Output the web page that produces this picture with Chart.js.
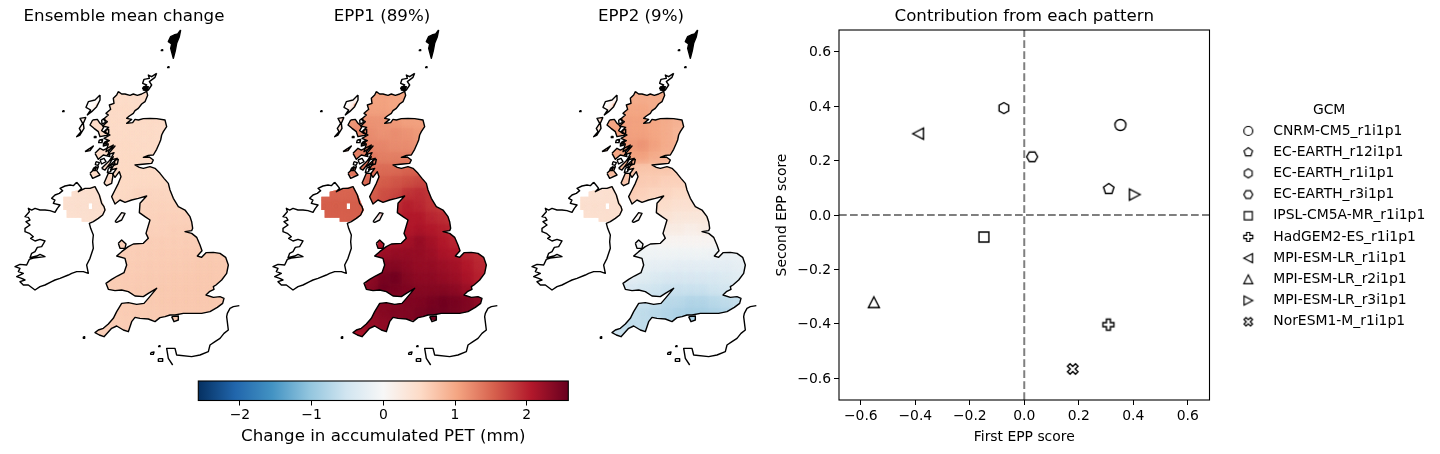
<!DOCTYPE html>
<html>
<head>
<meta charset="utf-8">
<title>EPP patterns</title>
<script src="https://cdn.jsdelivr.net/npm/chart.js@4"></script>
<style>
  html, body { margin: 0; padding: 0; background: #fff; }
  canvas { position: absolute; }
</style>
</head>
<body>
<canvas id="map1" width="248" height="370" style="left:0;top:0"></canvas>
<canvas id="map2" width="248" height="370" style="left:258px;top:0"></canvas>
<canvas id="map3" width="248" height="370" style="left:517px;top:0"></canvas>
<canvas id="colorbar" width="390" height="79" style="left:190px;top:375px"></canvas>
<canvas id="scores" width="450" height="454" style="left:772px;top:0"></canvas>
<canvas id="legend" width="217" height="260" style="left:1223px;top:90px"></canvas>
<script>
const _ = null;

// Map grid, cell centres in map units
const gridX = [198, 234, 270, 306, 342, 378, 414, 450, 486, 522, 558, 594, 630, 666];
const gridY = [234, 270, 306, 342, 378, 414, 450, 486, 522, 558, 594, 630, 666, 702, 738, 774, 810, 846, 882, 918, 954];

const meanChange = [
  [_,_,_,_,.48,.48,.47,.47,_,_,_,_,_,_],
  [_,_,_,.5,.5,.5,.48,.47,_,_,_,_,_,_],
  [_,_,.5,.5,.5,.5,.5,.5,.5,_,_,_,_,_],
  [_,_,.5,.5,.5,.5,.5,.5,.48,_,_,_,_,_],
  [_,_,.5,.5,.52,.52,.5,.5,.5,_,_,_,_,_],
  [_,_,.5,.5,.5,.52,.52,.5,_,_,_,_,_,_],
  [_,_,.5,.5,.52,.52,.52,.52,.52,_,_,_,_,_],
  [_,_,_,.5,.52,.52,.52,.52,.52,.55,_,_,_,_],
  [.42,.42,.42,.42,.52,.52,.55,.55,.55,.55,_,_,_,_],
  [.42,.42,.42,.42,.52,.55,.55,.58,.58,.58,.58,_,_,_],
  [.42,.42,.42,.42,_,_,.58,.58,.6,.6,.6,.6,_,_],
  [_,_,_,_,_,_,_,.6,.6,.62,.62,.62,_,_],
  [_,_,_,_,_,.62,.62,.62,.63,.63,.63,.63,_,_],
  [_,_,_,_,.62,.62,.63,.63,.64,.64,.65,.65,.66,.66],
  [_,_,_,_,.63,.64,.64,.65,.65,.66,.66,.67,.67,.67],
  [_,_,_,_,.64,.65,.65,.66,.66,.67,.67,.68,.68,.68],
  [_,_,_,.62,.64,.65,.66,.66,.67,.67,.68,.68,.68,_],
  [_,_,_,_,_,.64,.65,.66,.67,.68,.68,.68,.68,.68],
  [_,_,_,_,.64,.64,.65,.66,.67,.68,.68,.68,.68,_],
  [_,_,_,.62,.63,.64,.64,_,_,_,_,_,_,_],
  [_,_,.6,.62,.62,_,_,_,_,_,_,_,_,_]
];
const epp1Change = [
  [_,_,_,_,1.05,1.05,1.0,1.0,_,_,_,_,_,_],
  [_,_,_,1.05,1.05,1.05,1.0,1.0,_,_,_,_,_,_],
  [_,_,1.1,1.15,1.15,1.15,1.1,1.05,1.05,_,_,_,_,_],
  [_,_,1.2,1.25,1.2,1.15,1.2,1.15,1.1,_,_,_,_,_],
  [_,_,1.25,1.3,1.25,1.25,1.2,1.2,1.15,_,_,_,_,_],
  [_,_,1.3,1.3,1.35,1.3,1.3,1.3,_,_,_,_,_,_],
  [_,_,1.35,1.4,1.4,1.45,1.45,1.5,1.5,_,_,_,_,_],
  [_,_,_,1.4,1.5,1.55,1.6,1.65,1.7,1.7,_,_,_,_],
  [1.5,1.5,1.5,1.5,1.55,1.65,1.7,1.85,1.9,1.85,_,_,_,_],
  [1.55,1.55,1.55,1.55,1.6,1.7,1.9,2.0,1.95,1.85,1.8,_,_,_],
  [1.55,1.55,1.55,1.55,_,_,1.95,2.05,2.05,1.95,1.9,1.8,_,_],
  [_,_,_,_,_,_,_,2.05,2.1,2.05,2.0,1.9,_,_],
  [_,_,_,_,_,2.05,2.1,2.15,2.25,2.15,2.05,1.95,_,_],
  [_,_,_,_,2.1,2.2,2.25,2.25,2.25,2.2,2.1,2.05,1.95,1.9],
  [_,_,_,_,2.2,2.35,2.35,2.3,2.25,2.25,2.2,2.15,2.05,1.95],
  [_,_,_,_,2.3,2.45,2.5,2.35,2.3,2.3,2.25,2.2,2.1,2.0],
  [_,_,_,2.2,2.35,2.5,2.45,2.4,2.35,2.35,2.35,2.3,2.2,_],
  [_,_,_,_,_,2.35,2.35,2.4,2.4,2.45,2.5,2.45,2.4,2.3],
  [_,_,_,_,2.3,2.35,2.4,2.4,2.45,2.5,2.5,2.45,2.4,_],
  [_,_,_,2.2,2.25,2.3,2.35,_,_,_,_,_,_,_],
  [_,_,2.1,2.1,2.2,_,_,_,_,_,_,_,_,_]
];
const epp2Change = [
  [_,_,_,_,.95,.95,.95,.95,_,_,_,_,_,_],
  [_,_,_,.95,1.0,1.0,.95,.95,_,_,_,_,_,_],
  [_,_,1.0,1.0,1.05,1.05,1.0,.95,.9,_,_,_,_,_],
  [_,_,1.05,1.05,1.05,1.05,1.0,.95,.85,_,_,_,_,_],
  [_,_,1.0,1.05,1.1,1.15,1.05,.95,.9,_,_,_,_,_],
  [_,_,.95,1.0,1.05,1.05,.95,.9,_,_,_,_,_,_],
  [_,_,.8,.8,.75,.7,.7,.7,.65,_,_,_,_,_],
  [_,_,_,.75,.7,.65,.65,.6,.6,.55,_,_,_,_],
  [.4,.4,.4,.4,.65,.6,.55,.55,.5,.5,_,_,_,_],
  [.42,.42,.42,.42,.55,.5,.5,.45,.4,.4,.4,_,_,_],
  [.42,.42,.42,.42,_,_,.4,.35,.3,.3,.3,.3,_,_],
  [_,_,_,_,_,_,_,.2,.2,.15,.2,.2,_,_],
  [_,_,_,_,_,-.05,.0,.05,.05,.05,.05,.05,_,_],
  [_,_,_,_,-.1,-.1,-.1,-.1,-.1,-.1,-.1,-.12,-.15,-.15],
  [_,_,_,_,-.2,-.2,-.22,-.22,-.25,-.25,-.25,-.25,-.25,-.22],
  [_,_,_,_,-.25,-.3,-.35,-.4,-.4,-.4,-.4,-.4,-.35,-.3],
  [_,_,_,-.4,-.4,-.45,-.5,-.55,-.55,-.55,-.55,-.5,-.45,_],
  [_,_,_,_,_,-.55,-.6,-.7,-.7,-.75,-.75,-.7,-.65,-.6],
  [_,_,_,_,-.6,-.65,-.7,-.75,-.8,-.85,-.85,-.8,-.75,_],
  [_,_,_,-.6,-.65,-.65,-.7,_,_,_,_,_,_,_],
  [_,_,-.55,-.55,-.6,_,_,_,_,_,_,_,_,_]
];

// Coastlines, map units
const coastBritain = [[355,215],[365,222],[375,222],[390,226],[400,222],[412,226],[425,222],[440,214],[443,226],[435,245],[425,252],[415,265],[405,272],[400,280],[388,288],[380,295],[395,298],[380,310],[398,308],[405,298],[415,300],[430,296],[450,295],[470,296],[495,300],[500,320],[490,335],[485,345],[482,360],[478,370],[470,388],[460,405],[445,406],[430,412],[448,411],[460,420],[455,430],[435,432],[405,435],[418,442],[430,445],[450,440],[465,445],[480,460],[492,475],[505,490],[510,510],[520,535],[535,560],[555,570],[570,590],[575,605],[578,625],[575,632],[555,635],[575,640],[590,652],[600,675],[606,692],[592,708],[605,712],[618,698],[640,697],[660,700],[677,712],[685,735],[680,760],[665,780],[648,795],[640,800],[642,808],[628,815],[618,825],[640,832],[660,830],[672,835],[668,850],[652,862],[630,875],[605,880],[575,880],[550,880],[525,885],[510,885],[495,890],[480,893],[465,905],[445,897],[420,895],[405,892],[395,905],[385,935],[370,930],[350,918],[335,925],[312,950],[298,945],[285,938],[295,930],[310,925],[325,912],[340,895],[350,875],[365,850],[385,848],[410,853],[432,850],[445,835],[470,805],[445,820],[430,830],[405,828],[385,815],[365,810],[345,812],[325,808],[318,790],[335,778],[352,768],[372,758],[380,735],[375,715],[350,708],[365,695],[385,680],[400,672],[430,670],[445,655],[438,640],[450,600],[435,590],[418,578],[420,550],[440,528],[415,535],[395,540],[375,547],[360,540],[345,552],[335,530],[345,510],[355,490],[363,470],[358,455],[345,472],[338,462],[350,445],[332,450],[345,430],[325,440],[352,415],[330,420],[342,398],[322,405],[345,378],[318,395],[325,372],[310,372],[328,362],[312,355],[330,345],[312,335],[326,322],[308,318],[322,305],[310,298],[325,285],[318,280],[332,268],[328,255],[342,250],[340,235],[350,225],[355,215]];
const coastIreland = [[230,487],[220,497],[210,495],[195,498],[180,505],[188,512],[178,520],[165,525],[155,535],[165,540],[160,550],[180,555],[172,565],[165,577],[150,572],[135,570],[120,570],[105,565],[95,570],[85,565],[88,575],[75,590],[85,592],[90,600],[78,605],[90,615],[75,625],[75,635],[88,640],[100,650],[92,655],[105,663],[120,658],[135,663],[125,680],[112,682],[105,695],[95,700],[90,713],[110,708],[120,703],[135,710],[100,714],[88,718],[80,735],[60,733],[45,740],[60,745],[55,755],[70,760],[50,770],[65,775],[75,780],[60,785],[70,795],[85,795],[105,810],[120,800],[135,795],[155,785],[165,780],[180,775],[205,765],[215,760],[230,755],[250,755],[265,760],[262,745],[260,735],[270,715],[280,685],[278,665],[280,645],[272,625],[268,610],[280,605],[295,595],[308,585],[315,570],[312,560],[305,550],[298,525],[285,500],[270,505],[255,505],[235,515],[245,505],[237,495],[230,487]];
const coastFrance = [[718,857],[700,860],[690,865],[682,880],[680,890],[685,930],[672,940],[660,955],[645,965],[630,975],[625,995],[600,1005],[575,1010],[530,1005],[525,985],[500,985],[505,1015],[518,1035]];
const shetland = [[542,30],[533,42],[522,45],[512,50],[505,65],[515,72],[512,85],[520,115],[526,92],[530,70],[538,50],[542,30]];
const orkney = [[470,160],[455,170],[445,165],[448,175],[432,178],[428,190],[440,195],[428,205],[445,210],[455,195],[448,185],[465,172],[470,160]];
const orkneySouth = [[430,200],[445,200],[442,212],[430,210],[430,200]];
const lewis = [[300,225],[285,240],[265,245],[258,262],[272,270],[262,285],[275,275],[290,260],[300,240],[300,225]];
const uist = [[258,292],[240,295],[248,310],[238,325],[243,335],[230,350],[240,345],[252,325],[250,310],[258,292]];
const skye = [[278,300],[292,298],[300,310],[312,320],[305,332],[325,345],[300,350],[295,335],[282,325],[270,315],[278,300]];
const tiree = [[255,395],[265,388],[280,378],[270,392],[255,395]];
const mull = [[285,400],[300,385],[310,390],[340,375],[325,395],[330,410],[310,405],[295,418],[285,400]];
const islay = [[270,460],[285,445],[295,440],[290,452],[300,465],[278,475],[270,460]];
const jura = [[305,445],[325,425],[340,410],[330,430],[315,450],[305,445]];
const arran = [[312,490],[325,460],[340,460],[335,490],[320,497],[312,490]];
const anglesey = [[355,670],[365,660],[378,672],[375,685],[360,685],[355,670]];
const isleOfMan = [[345,605],[365,578],[375,580],[365,600],[350,607],[345,605]];
const isleOfWight = [[515,890],[535,888],[535,900],[522,905],[515,890]];
const smallIslands = [
  [[188,272],[192,272],[192,275],[188,275],[188,272]],
  [[484,89],[488,89],[488,92],[484,92],[484,89]],
  [[503,140],[507,140],[507,143],[503,143],[503,140]],
  [[250,950],[254,950],[254,955],[250,955],[250,950]],
  [[476,977],[480,977],[480,980],[476,980],[476,977]],
  [[452,998],[462,996],[460,1003],[452,1003],[452,998]],
  [[475,1016],[488,1016],[488,1024],[475,1024],[475,1016]],
  [[283,349],[288,349],[288,353],[283,353],[283,349]],
  [[300,420],[312,415],[318,425],[305,432],[300,420]],
  [[288,425],[298,428],[294,436],[286,434],[288,425]],
  [[312,368],[322,362],[320,375],[310,378],[312,368]],
  [[298,360],[308,358],[306,368],[296,368],[298,360]],
  [[325,445],[335,440],[332,455],[322,458],[325,445]],
  [[345,420],[355,418],[352,432],[342,435],[345,420]],
  [[280,445],[288,440],[286,452],[278,452],[280,445]],
  [[305,300],[314,296],[316,308],[306,312],[305,300]],
  [[318,330],[326,328],[326,340],[316,340],[318,330]]
];
// Part of Ireland that has data, and the missing cell in it
const niMask = [[190,530],[215,530],[215,515],[255,505],[285,498],[300,525],[312,555],[318,570],[308,587],[295,597],[272,605],[245,605],[245,593],[200,593],[200,570],[190,570],[190,530]];
const niHole = [[266,550],[266,567],[276,567],[276,550],[266,550]];

const landShapes = [coastBritain, lewis, uist, skye, tiree, mull, islay, jura, arran, anglesey, isleOfMan, isleOfWight, niMask, niHole];
const filledCoasts = [shetland, orkneySouth];
const coastLines = [coastBritain, coastIreland, coastFrance, shetland, orkney, orkneySouth, lewis, uist, skye, tiree, mull, islay, jura, arran, anglesey, isleOfMan, isleOfWight].concat(smallIslands);

// Scatter panel
const gcmNames = ["CNRM-CM5_r1i1p1", "EC-EARTH_r12i1p1", "EC-EARTH_r1i1p1", "EC-EARTH_r3i1p1", "IPSL-CM5A-MR_r1i1p1", "HadGEM2-ES_r1i1p1", "MPI-ESM-LR_r1i1p1", "MPI-ESM-LR_r2i1p1", "MPI-ESM-LR_r3i1p1", "NorESM1-M_r1i1p1"];
const firstScore = [0.353, 0.31, -0.075, 0.029, -0.148, 0.309, -0.389, -0.552, 0.405, 0.178];
const secondScore = [0.331, 0.096, 0.393, 0.214, -0.081, -0.403, 0.299, -0.321, 0.075, -0.566];
const markerShapes = ["circle", "pentagon", "hexagonV", "hexagonH", "square", "plus", "left", "up", "right", "cross"];
const scoreTicks = [-0.6, -0.4, -0.2, 0, 0.2, 0.4, 0.6];
const scoreLimit = 0.68;

// Colour bar
const rdBuStops = ["#053061", "#2166ac", "#4393c3", "#92c5de", "#d1e5f0", "#f7f7f7", "#fddbc7", "#f4a582", "#d6604d", "#b2182b", "#67001f"];
const colorLimit = 2.58;

const FONT = "'DejaVu Sans'";
Chart.defaults.font.family = FONT;
Chart.defaults.color = "#000";
Chart.defaults.animation = false;
Chart.defaults.devicePixelRatio = 1;

function hexToRgb(hex) {
  return [1, 3, 5].map((i) => parseInt(hex.slice(i, i + 2), 16));
}

// Same colour mapping as the colour bar
function valueColor(v) {
  const t = Math.min(0.9999, Math.max(0, (v + colorLimit) / (2 * colorLimit))) * (rdBuStops.length - 1);
  const i = Math.floor(t);
  const a = hexToRgb(rdBuStops[i]);
  const b = hexToRgb(rdBuStops[i + 1]);
  const c = a.map((ch, k) => Math.round(ch + (b[k] - ch) * (t - i)));
  return `rgb(${c[0]},${c[1]},${c[2]})`;
}

function toPoints(line) {
  return line.map((p) => ({ x: p[0], y: p[1] }));
}

// Clip the grid cells to the land shapes, and soften the cell edges
const landClip = {
  id: "landClip",
  beforeDatasetDraw(chart, args) {
    if (!chart.data.datasets[args.index].isCells) return;
    const ctx = chart.ctx;
    const sx = chart.scales.x;
    const sy = chart.scales.y;
    ctx.save();
    ctx.beginPath();
    landShapes.forEach((shape) => {
      shape.forEach((p, i) => {
        const px = sx.getPixelForValue(p[0]);
        const py = sy.getPixelForValue(p[1]);
        if (i === 0) ctx.moveTo(px, py);
        else ctx.lineTo(px, py);
      });
      ctx.closePath();
    });
    ctx.clip();
  },
  afterDatasetDraw(chart, args) {
    if (!chart.data.datasets[args.index].isCells) return;
    const ctx = chart.ctx;
    ctx.filter = "blur(4px)";
    args.meta.controller.draw();
    ctx.filter = "none";
    ctx.restore();
  },
};

function createMap(canvasId, title, field) {
  const cells = [];
  const colors = [];
  field.forEach((row, r) => {
    row.forEach((v, c) => {
      if (v === null) return;
      cells.push({ x: gridX[c], y: gridY[r] });
      colors.push(valueColor(v));
    });
  });
  const datasets = coastLines.map((line) => ({
    data: toPoints(line),
    showLine: true,
    borderColor: "#000",
    borderWidth: 1.4,
    borderJoinStyle: "round",
    pointRadius: 0,
    fill: filledCoasts.includes(line) ? "shape" : false,
    backgroundColor: "#000",
  }));
  datasets.push({
    isCells: true,
    data: cells,
    pointStyle: "rect",
    pointRadius: 8.8,
    pointBorderWidth: 0,
    pointBackgroundColor: colors,
  });
  return new Chart(document.getElementById(canvasId), {
    type: "scatter",
    data: { datasets },
    plugins: [landClip],
    options: {
      responsive: false,
      layout: { padding: 0, autoPadding: false },
      plugins: {
        legend: { display: false },
        tooltip: { enabled: false },
        title: { display: true, text: title, color: "#000", font: { size: 16.67, weight: "normal" }, padding: { top: 7, bottom: 0 } },
      },
      scales: {
        x: { display: false, min: 0, max: 744 },
        y: { display: false, min: 21, max: 1050, reverse: true },
      },
    },
  });
}

createMap("map1", "Ensemble mean change", meanChange);
createMap("map2", "EPP1 (89%)", epp1Change);
createMap("map3", "EPP2 (9%)", epp2Change);

// Black box round an axes
const axesBox = {
  id: "axesBox",
  afterDatasetsDraw(chart) {
    const a = chart.chartArea;
    const ctx = chart.ctx;
    ctx.save();
    ctx.strokeStyle = "#000";
    ctx.lineWidth = 1.1;
    ctx.strokeRect(a.left, a.top, a.right - a.left, a.bottom - a.top);
    ctx.restore();
  },
};

function minusTick(v, digits) {
  return v.toFixed(digits).replace("-", "\u2212");
}

new Chart(document.getElementById("colorbar"), {
  type: "bar",
  data: {
    labels: ["PET"],
    datasets: [{
      data: [[-colorLimit, colorLimit]],
      barPercentage: 1,
      categoryPercentage: 1,
      backgroundColor(context) {
        const a = context.chart.chartArea;
        if (!a) return "#fff";
        const g = context.chart.ctx.createLinearGradient(a.left, 0, a.right, 0);
        rdBuStops.forEach((c, i) => g.addColorStop(i / (rdBuStops.length - 1), c));
        return g;
      },
    }],
  },
  plugins: [axesBox],
  options: {
    responsive: false,
    indexAxis: "y",
    layout: { padding: { left: 8.3, right: 11.7, top: 6, bottom: 0 } },
    plugins: { legend: { display: false }, tooltip: { enabled: false } },
    scales: {
      y: { display: false },
      x: {
        type: "linear",
        min: -colorLimit,
        max: colorLimit,
        afterFit(s) { s.height = 53.5; },
        afterBuildTicks(s) { s.ticks = [-2, -1, 0, 1, 2].map((v) => ({ value: v })); },
        grid: { drawOnChartArea: false, tickLength: 5, color: "#000", tickWidth: 1 },
        border: { display: false },
        ticks: { font: { size: 13.9 }, padding: 2, maxRotation: 0, callback: (v) => minusTick(v, 0) },
        title: { display: true, text: "Change in accumulated PET (mm)", font: { size: 16.67 }, padding: { top: 1, bottom: 7 } },
      },
    },
  },
});

// Marker images for the scatter and the legend
function makeMarker(shape, size, lineWidth) {
  const box = Math.ceil(size + lineWidth * 2 + 2);
  const cv = document.createElement("canvas");
  cv.width = box;
  cv.height = box;
  const ctx = cv.getContext("2d");
  const c = box / 2;
  const r = size / 2;
  ctx.translate(c, c);
  ctx.beginPath();
  const poly = (pts) => pts.forEach((p, i) => (i ? ctx.lineTo(r * p[0], r * p[1]) : ctx.moveTo(r * p[0], r * p[1])));
  const regular = (n, start) => {
    const pts = [];
    for (let i = 0; i < n; i++) {
      const ang = start + (i * 2 * Math.PI) / n;
      pts.push([Math.cos(ang), Math.sin(ang)]);
    }
    return pts;
  };
  const w = 0.36;
  switch (shape) {
    case "circle": ctx.arc(0, 0, r, 0, Math.PI * 2); break;
    case "pentagon": poly(regular(5, -Math.PI / 2)); break;
    case "hexagonV": poly(regular(6, -Math.PI / 2)); break;
    case "hexagonH": poly(regular(6, 0)); break;
    case "square": poly([[-0.9, -0.9], [0.9, -0.9], [0.9, 0.9], [-0.9, 0.9]]); break;
    case "plus": poly([[-w, -1], [w, -1], [w, -w], [1, -w], [1, w], [w, w], [w, 1], [-w, 1], [-w, w], [-1, w], [-1, -w], [-w, -w]]); break;
    case "left": poly([[-1, 0], [0.95, -1], [0.95, 1]]); break;
    case "up": poly([[0, -1], [1, 0.95], [-1, 0.95]]); break;
    case "right": poly([[1, 0], [-0.95, 1], [-0.95, -1]]); break;
    case "cross": poly([[-0.95, -0.5], [-0.5, -0.95], [0, -0.45], [0.5, -0.95], [0.95, -0.5], [0.45, 0], [0.95, 0.5], [0.5, 0.95], [0, 0.45], [-0.5, 0.95], [-0.95, 0.5], [-0.45, 0]]); break;
  }
  ctx.closePath();
  ctx.fillStyle = "#fff";
  ctx.fill();
  ctx.strokeStyle = "#000";
  ctx.lineWidth = lineWidth;
  ctx.stroke();
  return cv;
}

const scoreDatasets = gcmNames.map((name, i) => ({
  label: name,
  data: [{ x: firstScore[i], y: secondScore[i] }],
  pointStyle: makeMarker(markerShapes[i], 11, 1.4),
}));
const zeroLine = { showLine: true, borderColor: "#7f7f7f", borderWidth: 2, borderDash: [7.7, 3.3], pointRadius: 0 };
scoreDatasets.push(Object.assign({ data: [{ x: -scoreLimit, y: 0 }, { x: scoreLimit, y: 0 }] }, zeroLine));
scoreDatasets.push(Object.assign({ data: [{ x: 0, y: -scoreLimit }, { x: 0, y: scoreLimit }] }, zeroLine));

function scoreAxis(label, titlePadding, labelOffset) {
  return {
    type: "linear",
    min: -scoreLimit,
    max: scoreLimit,
    afterBuildTicks(s) { s.ticks = scoreTicks.map((v) => ({ value: v })); },
    grid: { drawOnChartArea: false, tickLength: 5, color: "#000" },
    border: { display: false },
    ticks: { font: { size: 13.9 }, padding: 3, maxRotation: 0, labelOffset, callback: (v) => minusTick(v, 1) },
    title: { display: true, text: label, font: { size: 13.9 }, padding: titlePadding },
  };
}

new Chart(document.getElementById("scores"), {
  type: "scatter",
  data: { datasets: scoreDatasets },
  plugins: [axesBox],
  options: {
    responsive: false,
    layout: { padding: { left: 0, right: 12.5, top: 0, bottom: 0 }, autoPadding: false },
    plugins: {
      legend: { display: false },
      tooltip: { enabled: false },
      title: { display: true, fullSize: false, text: "Contribution from each pattern", color: "#000", font: { size: 16.67, weight: "normal" }, padding: { top: 7, bottom: 3 } },
    },
    scales: {
      x: Object.assign(scoreAxis("First EPP score", { top: 2, bottom: 8 }, 0), { afterFit(s) { s.height = 54; } }),
      y: Object.assign(scoreAxis("Second EPP score", { top: 2, bottom: 0 }, 1), { afterFit(s) { s.width = 67; } }),
    },
  },
});

// Legend on its own canvas, markers a little smaller than in the scatter
const legendMarkers = markerShapes.map((s) => makeMarker(s, 9, 1.2));
new Chart(document.getElementById("legend"), {
  type: "scatter",
  data: { datasets: [] },
  options: {
    responsive: false,
    plugins: {
      tooltip: { enabled: false },
      legend: {
        position: "left",
        align: "start",
        maxWidth: 217,
        title: { display: true, text: "GCM", color: "#000", font: { size: 13.9 }, padding: { top: 13, bottom: -3 } },
        labels: {
          usePointStyle: true,
          pointStyleWidth: 36,
          padding: 7.3,
          color: "#000",
          font: { size: 13.9 },
          generateLabels: () => gcmNames.map((name, i) => ({ text: name, pointStyle: legendMarkers[i], datasetIndex: i, hidden: false, lineWidth: 0 })),
        },
      },
    },
    scales: { x: { display: false }, y: { display: false } },
  },
});
</script>
</body>
</html>
